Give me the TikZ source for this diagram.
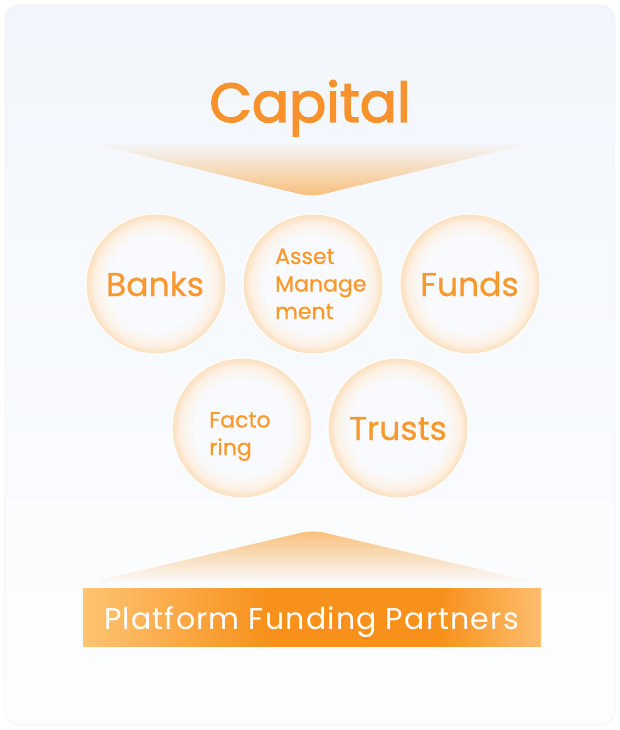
\documentclass[tikz,border=0pt]{standalone}
\usepackage{fontspec}
\setmainfont{Poppins}
\newfontfamily\capfont{Poppins}[FakeBold=2.6]
\newfontfamily\lblfont{Poppins}[FakeBold=0.7]
\newfontfamily\banfont{Poppins}[LetterSpace=4]
\usetikzlibrary{fadings}
\definecolor{capc}{HTML}{F7922C}
\definecolor{lblc}{HTML}{F8992E}
\definecolor{func}{HTML}{F9AE55}
\definecolor{cardT}{HTML}{F2F6FC}
\definecolor{cardB}{HTML}{FDFEFF}
\definecolor{cardE}{HTML}{F0F3F8}
\definecolor{bubC}{HTML}{F8FAFE}
\definecolor{bubA}{HTML}{FDF1E4}
\definecolor{bubB}{HTML}{FBE2C4}
\definecolor{banL}{HTML}{FEC470}
\definecolor{banM}{HTML}{FBAA48}
\definecolor{banD}{HTML}{F7911C}
\definecolor{banR}{HTML}{FDBE6E}
\pgfdeclareradialshading{bubble}{\pgfpoint{0bp}{0bp}}{color(0bp)=(bubC); color(17bp)=(bubC); color(22bp)=(bubA); color(24.3bp)=(bubB); color(25bp)=(bubB); color(50bp)=(bubB)}
\pgfdeclarehorizontalshading{banner}{100bp}{color(0bp)=(banL); color(25bp)=(banL); color(35bp)=(banM); color(45bp)=(banD); color(64bp)=(banD); color(75bp)=(banR); color(100bp)=(banR)}
\tikzfading[name=fadedown, top color=transparent!100, bottom color=transparent!22]
\tikzfading[name=fadeup, top color=transparent!22, bottom color=transparent!100]
\tikzset{
  bub/.style={circle, minimum size=140pt, inner sep=0pt, shade, shading=bubble, draw=white, line width=1pt},
  big/.style={text=lblc, inner sep=0pt, font=\lblfont\fontsize{33}{36}\selectfont},
  small/.style={text=lblc, inner sep=0pt, align=left, font=\lblfont\fontsize{22}{27.5}\selectfont},
}
\begin{document}
\begin{tikzpicture}[x=1pt,y=1pt]
\useasboundingbox (0,0) rectangle (620,-730);
\fill[white] (0,0) rectangle (620,-730);
\shade[top color=cardT, bottom color=cardB, rounded corners=14pt, draw=cardE, line width=0.6pt] (5,-5) rectangle (615,-725);
% title
\node[text=capc, inner sep=0pt, anchor=base, font=\capfont\fontsize{55}{60}\selectfont] (cap) at (310,-122) {Capital};
% top funnel
\fill[func, path fading=fadedown] (87,-142) [rounded corners=12pt] -- (312,-197) [sharp corners] -- (537,-142) -- cycle;
% bubbles
\node[bub] (banks) at (156,-284) {};
\node[bub] (asset) at (313,-284) {};
\node[bub] (funds) at (470,-284) {};
\node[bub] (fact) at (242,-428) {};
\node[bub] (trust) at (398,-428) {};
\node[big, anchor=base] (banksT) at (155,-296) {Banks};
\node[big, anchor=base] (fundsT) at (469.5,-296) {Funds};
\node[big, anchor=base] (trustT) at (398,-440) {Trusts};
\node[small, anchor=base west] (assetT) at (275,-319) {Asset\\Manage\\ment};
\node[small, anchor=base west] (factT) at (209,-455) {Facto\\ring};
% bottom funnel
\fill[func, path fading=fadeup] (88,-583) [rounded corners=12pt] -- (313,-530) [sharp corners] -- (538,-583) -- cycle;
% banner
\shade[shading=banner] (83,-588) rectangle (541,-646);
\node[text=white, inner sep=0pt, anchor=base, font=\banfont\fontsize{30}{32}\selectfont] (plat) at (311.5,-629) {Platform Funding Partners};
\end{tikzpicture}
\end{document}
